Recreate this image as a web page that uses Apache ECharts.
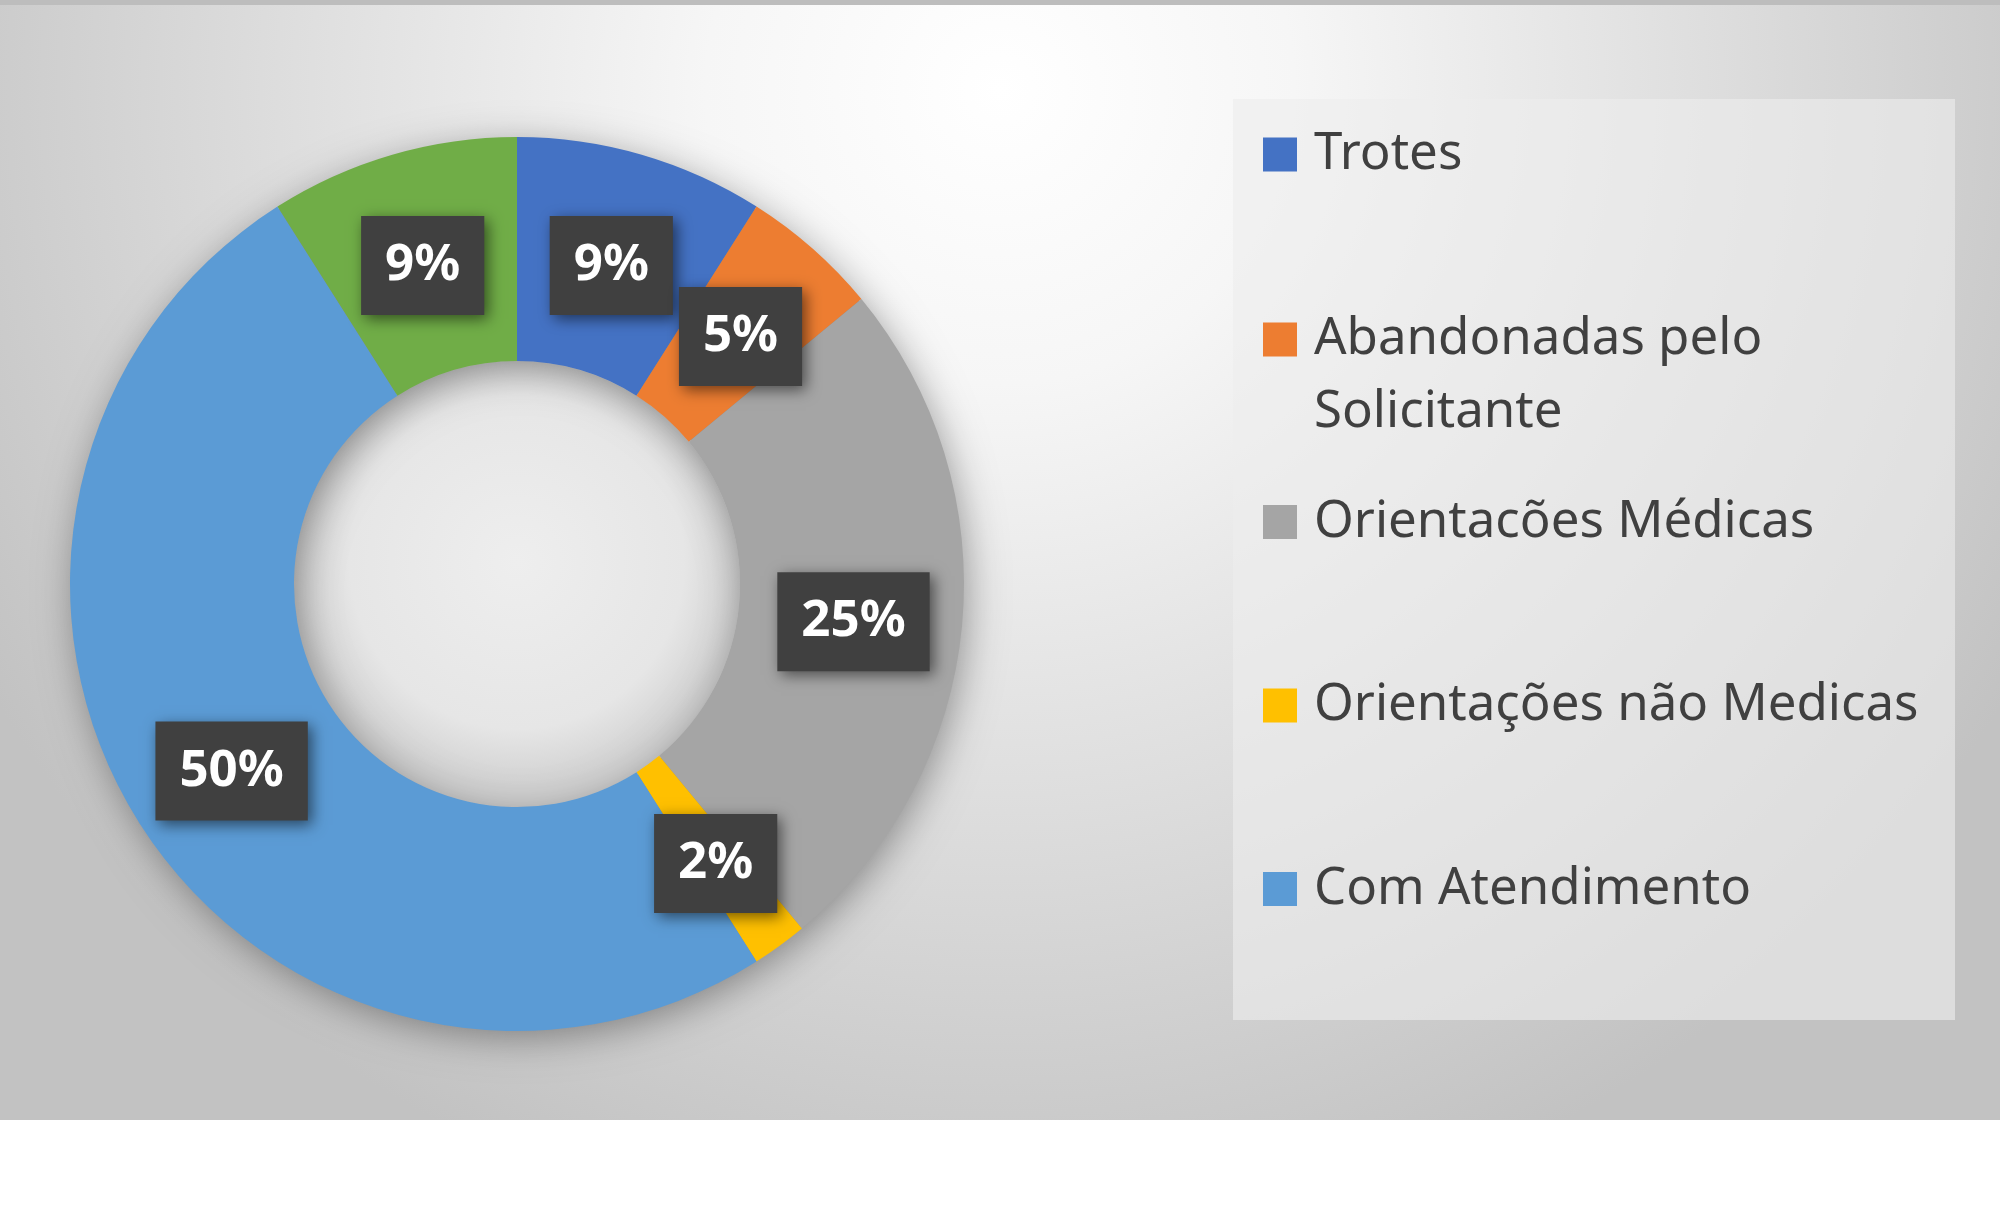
<!DOCTYPE html>
<html>
<head>
<meta charset="utf-8">
<script src="https://cdn.jsdelivr.net/npm/echarts@6/dist/echarts.min.js"></script>
<style>
  html, body { margin: 0; padding: 0; background: #fff; }
  #main { width: 2000px; height: 1206px; }
</style>
</head>
<body>
<div id="main"></div>
<script>
// categories and values (percent)
var names = ['Trotes', 'Abandonadas pelo Solicitante', 'Orientacões Médicas', 'Orientações não Medicas', 'Com Atendimento', ''];
var values = [9, 5, 25, 2, 50, 9];
var colors = ['#4472C4', '#ED7D31', '#A5A5A5', '#FFC000', '#5B9BD5', '#70AD47'];
var legendNames = names.slice(0, 5);

// layout
var CX = 517, CY = 584, R0 = 223, R1 = 447;
var LINE = 73;
// centre of the marker line of each legend entry
var legendLineY = [154.5, 339.5, 522, 705.5, 889];

var chart = echarts.init(document.getElementById('main'));

// one legend per entry so the two-line entry does not push the others
var legends = legendNames.map(function (n, i) {
  var twoLines = n.indexOf(' Solicitante') >= 0;
  // a blank line on top keeps the marker beside the first text line
  var half = twoLines ? LINE * 1.5 : LINE / 2;
  return {
    orient: 'vertical',
    left: 1263,
    top: legendLineY[i] - half,
    padding: 0,
    icon: 'rect',
    itemWidth: 34,
    itemHeight: 34,
    selectedMode: false,
    data: [n],
    formatter: function (s) {
      return s.indexOf(' Solicitante') >= 0 ? ' \n' + s.replace(' Solicitante', '\nSolicitante') : s;
    },
    textStyle: {
      fontFamily: 'Noto Sans',
      fontSize: 51,
      color: '#404040',
      lineHeight: LINE,
      padding: [0, 0, 0, 12]
    }
  };
});

var option = {
  animation: false,
  color: colors,
  graphic: [
    // chart area background
    {
      type: 'rect', z: -10,
      shape: { x: 0, y: 0, width: 2000, height: 1120 },
      style: {
        fill: {
          type: 'radial', x: 0.5, y: 0.08, r: 1.05,
          colorStops: [
            { offset: 0, color: '#ffffff' },
            { offset: 0.25, color: '#f6f6f6' },
            { offset: 0.6, color: '#dedede' },
            { offset: 1, color: '#c2c2c2' }
          ]
        }
      }
    },
    {
      type: 'rect', z: -9,
      shape: { x: 0, y: 0, width: 2000, height: 5 },
      style: { fill: '#bdbdbd' }
    },
    // hole of the donut
    {
      type: 'circle', z: -8,
      shape: { cx: CX, cy: CY, r: R0 },
      style: {
        fill: {
          type: 'radial', x: 0.5, y: 0.45, r: 0.5,
          colorStops: [
            { offset: 0, color: '#eeeeee' },
            { offset: 0.75, color: '#e6e6e6' },
            { offset: 1, color: '#d2d2d2' }
          ]
        }
      }
    },
    // soft shadow under the ring
    {
      type: 'ring', z: -7,
      shape: { cx: CX, cy: CY, r: R1 - 3, r0: R0 + 3 },
      style: {
        fill: '#8a8a8a',
        shadowBlur: 40,
        shadowColor: 'rgba(0,0,0,0.4)',
        shadowOffsetX: 4,
        shadowOffsetY: 8
      }
    },
    // legend box
    {
      type: 'rect', z: -6,
      shape: { x: 1233, y: 99, width: 722, height: 921 },
      style: { fill: 'rgba(238,238,238,0.62)' }
    }
  ],
  legend: legends,
  series: [{
    type: 'pie',
    center: [CX, CY],
    radius: [R0, R1],
    startAngle: 90,
    clockwise: true,
    avoidLabelOverlap: false,
    percentPrecision: 0,
    silent: true,
    itemStyle: { borderWidth: 0 },
    label: {
      show: true,
      position: 'inside',
      formatter: '{d}%',
      offset: [0, 6],
      color: '#ffffff',
      fontFamily: 'Noto Sans',
      fontWeight: 'bold',
      fontSize: 51,
      backgroundColor: '#404040',
      padding: [26, 24, 22, 24],
      shadowBlur: 14,
      shadowColor: 'rgba(0,0,0,0.55)',
      shadowOffsetX: 4,
      shadowOffsetY: 4
    },
    labelLine: { show: false },
    emphasis: { disabled: true },
    data: names.map(function (n, i) {
      return { name: n, value: values[i] };
    })
  }]
};

chart.setOption(option);
</script>
</body>
</html>
